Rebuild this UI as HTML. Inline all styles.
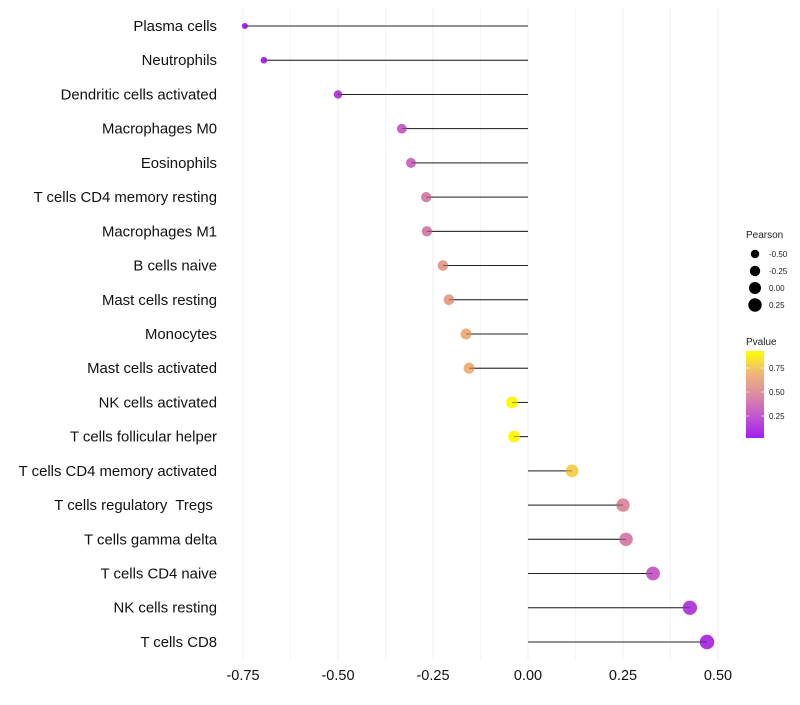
<!DOCTYPE html>
<html><head><meta charset="utf-8"><style>
body{margin:0;background:#fff;font-family:"Liberation Sans",sans-serif;}
svg text{font-family:"Liberation Sans",sans-serif;white-space:pre;}
</style></head><body>
<svg id="chart" width="800" height="700"></svg>
<script>
const categories=["Plasma cells","Neutrophils","Dendritic cells activated","Macrophages M0","Eosinophils","T cells CD4 memory resting","Macrophages M1","B cells naive","Mast cells resting","Monocytes","Mast cells activated","NK cells activated","T cells follicular helper","T cells CD4 memory activated","T cells regulatory  Tregs ","T cells gamma delta","T cells CD4 naive","NK cells resting","T cells CD8"];
const pearson=[-0.745,-0.695,-0.5,-0.332,-0.308,-0.268,-0.266,-0.224,-0.208,-0.163,-0.155,-0.042,-0.037,0.116,0.25,0.258,0.329,0.426,0.471];
const pvalues=[0.02,0.05,0.15,0.3,0.35,0.45,0.45,0.6,0.62,0.7,0.72,0.98,0.98,0.83,0.5,0.45,0.3,0.15,0.1];
const xTicks=[-0.75,-0.5,-0.25,0,0.25,0.5];
const xTickLabels=["-0.75","-0.50","-0.25","0.00","0.25","0.50"];
const sizeLegend=[-0.5,-0.25,0,0.25];
const sizeLegendLabels=["-0.50","-0.25","0.00","0.25"];
const colorTicks=[0.75,0.5,0.25];

const NS="http://www.w3.org/2000/svg";
const svg=document.getElementById('chart');
function el(t,a,p){const e=document.createElementNS(NS,t);for(const k in a)e.setAttribute(k,a[k]);(p||svg).appendChild(e);return e;}
const x=v=>528+v*380;
const y=i=>26+i*34.22;
const rad=v=>Math.sqrt(Math.max(1,36+36*v));
const stops=[[0,[160,32,240]],[0.3,[200,96,200]],[0.5,[220,140,160]],[0.75,[240,184,120]],[1,[255,255,0]]];
function col(p){for(let i=1;i<stops.length;i++){if(p<=stops[i][0]){const a=stops[i-1],b=stops[i],t=(p-a[0])/(b[0]-a[0]);const c=a[1].map((v,j)=>Math.round(v+(b[1][j]-v)*t));return `rgb(${c})`;}}return 'rgb(255,255,0)';}

for(let v=-0.75;v<=0.51;v+=0.125){
  const g=el('line',{x1:x(v),x2:x(v),y1:8,y2:660,stroke:'#efefef','stroke-width':Math.abs((v*4)%1)<0.01?1:0.6});
  
  
}
xTicks.forEach((v,i)=>{
  const t=el('text',{x:x(v),y:680,'text-anchor':'middle','font-size':14.5,fill:'#111'});
  t.textContent=xTickLabels[i];
  
  
});
categories.forEach((c,i)=>{
  const t=el('text',{x:217,y:y(i)+5,'text-anchor':'end','font-size':14.9,fill:'#111'});
  t.textContent=c;
  
  
  const l=el('line',{x1:x(0),x2:x(pearson[i]),y1:y(i),y2:y(i),stroke:'#222','stroke-width':1});
  
  
  const d=el('circle',{cx:x(pearson[i]),cy:y(i),r:rad(pearson[i]),fill:col(pvalues[i])});
  
  
  const l2=el('line',{x1:x(0),x2:x(pearson[i]),y1:y(i),y2:y(i),stroke:'#222','stroke-width':0.8,'stroke-opacity':0.6});
  
  
});
let t=el('text',{x:746,y:238,'font-size':10,fill:'#222'});t.textContent='Pearson';


sizeLegend.forEach((v,i)=>{
  const c=el('circle',{cx:755,cy:254+i*17,r:rad(v),fill:'#000'});
  
  
  const tt=el('text',{x:769,y:257+i*17,'font-size':8,fill:'#222'});tt.textContent=sizeLegendLabels[i];
  
  
});
t=el('text',{x:746,y:345,'font-size':10,fill:'#222'});t.textContent='Pvalue';


const defs=el('defs',{});const lg=el('linearGradient',{id:'pg',x1:0,y1:1,x2:0,y2:0},defs);
stops.forEach(s=>el('stop',{offset:s[0],'stop-color':`rgb(${s[1]})`},lg));
const bar=el('rect',{x:746,y:351,width:18,height:87,fill:'url(#pg)'});


colorTicks.forEach(v=>{
  const yy=440-v*96;
  el('line',{x1:746,x2:749,y1:yy,y2:yy,stroke:'#fff','stroke-opacity':0.6});
  el('line',{x1:761,x2:764,y1:yy,y2:yy,stroke:'#fff','stroke-opacity':0.6});
  const tt=el('text',{x:769,y:yy+3,'font-size':8,fill:'#222'});tt.textContent=v.toFixed(2);
  
  
});
</script>
</body></html>
